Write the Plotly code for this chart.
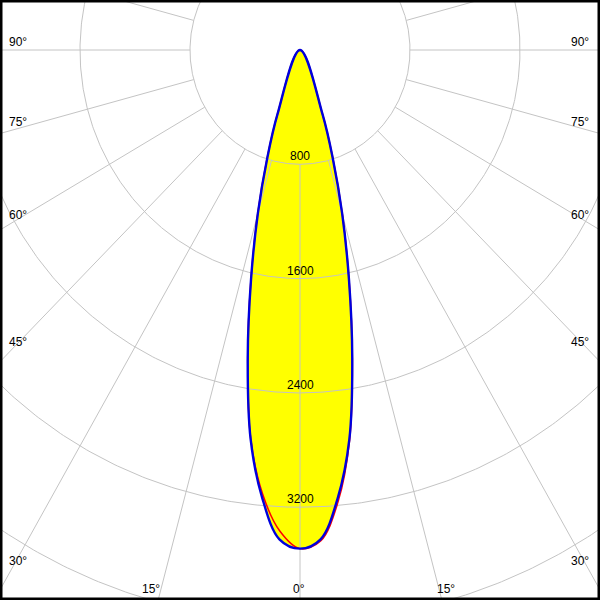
import numpy as np
import plotly.graph_objects as go

# ---- data (candela) ----
angles_deg = [0, 2.5, 5, 7.5, 10, 12.5, 15, 17.5, 20, 22.5, 25, 27.5, 30]
blue_cd = [3490, 3428, 3148, 2749, 2189, 1645, 1184, 789, 480, 0, 0, 0, 0]
red_right_cd = [3490, 3440, 3175, 2760, 2192, 1650, 1192, 796, 482, 0, 0, 0, 0]
red_left_cd = [3490, 3370, 3120, 2745, 2190, 1650, 1192, 798, 484, 0, 0, 0, 0]

ring_values = [800, 1600, 2400, 3200, 4000, 4800]
ring_labels = ["800", "1600", "2400", "3200"]
spoke_angles = list(range(0, 360, 15))
spoke_start = 800

side_labels = ["90°", "75°", "60°", "45°", "30°"]
bottom_labels = ["15°", "0°", "15°"]

# ---- helpers ----
def half(angles, values, sign):
    pts = []
    for a, v in zip(angles, values):
        pts.append((sign * a, v))
        if v == 0:
            break
    return pts

def curve(left_vals, right_vals):
    left = half(angles_deg, left_vals, -1)[::-1]
    right = half(angles_deg, right_vals, 1)[1:]
    pts = left + right
    th = np.radians([p[0] for p in pts])
    r = np.array([p[1] for p in pts], dtype=float)
    return r * np.sin(th), -r * np.cos(th)

fig = go.Figure()

# yellow fill
bx, by = curve(blue_cd, blue_cd)
fig.add_trace(go.Scatter(x=bx, y=by, mode="lines", fill="toself", fillcolor="#ffff00",
                         line=dict(width=0, shape="spline", color="#ffff00"),
                         hoverinfo="skip", showlegend=False))

# grid circles and spokes
t = np.radians(np.linspace(0, 360, 721))
gx, gy = [], []
for rv in ring_values:
    gx += list(rv * np.sin(t)) + [None]
    gy += list(-rv * np.cos(t)) + [None]
for a in spoke_angles:
    ar = np.radians(a)
    gx += [spoke_start * np.sin(ar), 9000 * np.sin(ar), None]
    gy += [-spoke_start * np.cos(ar), -9000 * np.cos(ar), None]
fig.add_trace(go.Scatter(x=gx, y=gy, mode="lines", line=dict(color="#c4c4c4", width=1),
                         hoverinfo="skip", showlegend=False))

# red curve
rx, ry = curve(red_left_cd, red_right_cd)
fig.add_trace(go.Scatter(x=rx, y=ry, mode="lines", line=dict(color="#ff0000", width=1.5, shape="spline"),
                         hoverinfo="skip", showlegend=False))
# blue curve
fig.add_trace(go.Scatter(x=bx, y=by, mode="lines", line=dict(color="#0000dd", width=2.4, shape="spline"),
                         hoverinfo="skip", showlegend=False))

annotations = []
for lab, rv in zip(ring_labels, ring_values):
    annotations.append(dict(x=0, y=-rv, xref="x", yref="y", text=lab, showarrow=False,
                            yanchor="bottom", xanchor="center", yshift=-1,
                            font=dict(family="Liberation Sans, Arial", size=12, color="black")))

side_y_px = [42, 122, 215, 342, 561]
for lab, ypx in zip(side_labels, side_y_px):
    for xpx in (18, 580):
        annotations.append(dict(x=xpx / 600, y=1 - ypx / 600, xref="paper", yref="paper", text=lab,
                                showarrow=False, xanchor="center", yanchor="middle",
                                font=dict(family="Liberation Sans, Arial", size=12, color="black")))
for lab, xpx in zip(bottom_labels, [151, 299, 446]):
    annotations.append(dict(x=xpx / 600, y=1 - 589 / 600, xref="paper", yref="paper", text=lab,
                            showarrow=False, xanchor="center", yanchor="middle",
                            font=dict(family="Liberation Sans, Arial", size=12, color="black")))

kx = 800 / 110.0
ky = 800 / 114.3
fig.update_layout(
    width=600, height=600, autosize=False,
    margin=dict(l=0, r=0, t=0, b=0),
    paper_bgcolor="white", plot_bgcolor="white",
    xaxis=dict(range=[-300 * kx, 300 * kx], visible=False, fixedrange=True),
    yaxis=dict(range=[-550 * ky, 50 * ky], visible=False, fixedrange=True),
    annotations=annotations,
    shapes=[dict(type="rect", xref="paper", yref="paper", x0=0, x1=1, y0=0, y1=1,
                 line=dict(color="black", width=5), layer="above")],
)

fig.write_html("out.html", config={"displayModeBar": False},
               post_script="document.body.style.margin='0px';document.body.style.overflow='hidden';")
